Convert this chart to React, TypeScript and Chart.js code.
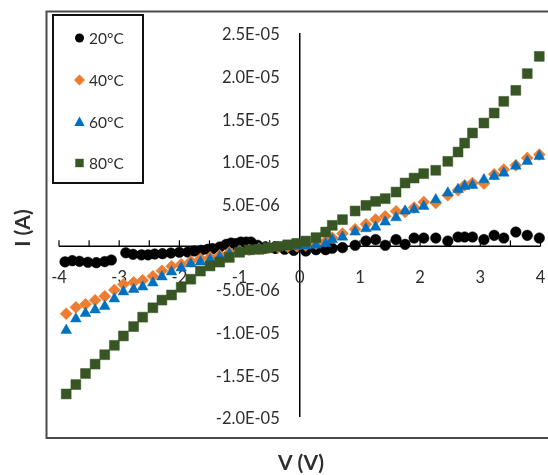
import React, { useEffect, useRef } from 'react';
import { Chart, registerables } from 'chart.js';

Chart.register(...registerables);

// ---------- data ----------
const seriesLabels = ['20°C', '40°C', '60°C', '80°C'];
const seriesColors = ['#000000', '#ED7D31', '#0070C0', '#375623'];

const v20 = [
  -3.9, -3.78, -3.66, -3.52, -3.38, -3.24, -3.13, -2.89, -2.77, -2.63, -2.52, -2.41, -2.28, -2.14, -2.0, -1.86,
  -1.75, -1.64, -1.53, -1.45, -1.33, -1.22, -1.14, -1.06, -0.98, -0.89, -0.81, -0.7, -0.55, -0.4, -0.25, -0.1,
  0.1, 0.27, 0.43, 0.54, 0.71, 0.92, 1.1, 1.26, 1.42, 1.6, 1.75, 1.9, 2.06, 2.26, 2.46, 2.63, 2.74, 2.87,
  3.06, 3.23, 3.39, 3.59, 3.78, 3.98,
];
const i20 = [
  -1.82e-6, -1.68e-6, -1.76e-6, -1.87e-6, -1.91e-6, -1.79e-6, -1.6e-6, -7.6e-7, -9.4e-7, -1.0e-6, -1.0e-6, -9.0e-7,
  -8.6e-7, -7.9e-7, -7.0e-7, -6.7e-7, -5.5e-7, -4.7e-7, -3.5e-7, -2.7e-7, -8e-8, 2.3e-7, 3.9e-7, 3.2e-7, 5.0e-7,
  5.0e-7, 5.0e-7, 1.2e-7, -1.2e-7, -2.3e-7, -3.5e-7, -4.7e-7,
  -5.5e-7, -3.9e-7, -3.9e-7, -2.3e-7, -1.5e-7, 1.2e-7, 6.2e-7, 7.9e-7, 1.2e-7, 7.9e-7, 2.3e-7, 9.7e-7, 9.7e-7,
  9.7e-7, 6.2e-7, 1.09e-6, 1.09e-6, 1.09e-6, 7.9e-7, 1.29e-6, 9.7e-7, 1.68e-6, 1.29e-6, 9.7e-7,
];

const vSweep = [
  -3.88, -3.72, -3.56, -3.4, -3.24, -3.08, -2.93, -2.76, -2.61, -2.44, -2.29, -2.13, -1.97, -1.81, -1.65, -1.49,
  -1.33, -1.17, -1.0, -0.84, -0.68, -0.52, -0.36, -0.2, -0.05,
  0.1, 0.27, 0.43, 0.54, 0.71, 0.92, 1.1, 1.26, 1.42, 1.6, 1.75, 1.9, 2.06, 2.26, 2.46, 2.63, 2.74, 2.87, 3.06,
  3.23, 3.39, 3.59, 3.78, 3.98,
];
const i40 = [
  -7.89e-6, -7.15e-6, -6.8e-6, -6.33e-6, -5.86e-6, -5.12e-6, -4.45e-6, -4.22e-6, -3.98e-6, -3.52e-6, -2.87e-6,
  -2.34e-6, -2.11e-6, -1.76e-6, -1.46e-6, -1.29e-6, -1.05e-6, -7.0e-7, -5.3e-7, -4.1e-7, -2.9e-7, -1.8e-7, -1.2e-7,
  -6e-8, 0,
  1e-7, 3e-7, 6e-7, 1.0e-6, 1.5e-6, 2.0e-6, 2.6e-6, 3.13e-6, 3.52e-6, 4.1e-6, 4.02e-6, 4.54e-6, 5.19e-6, 5.07e-6,
  5.98e-6, 6.56e-6, 7.15e-6, 7.42e-6, 7.35e-6, 8.44e-6, 8.99e-6, 9.49e-6, 1.035e-5, 1.075e-5,
];
const i60 = [
  -9.84e-6, -8.5e-6, -7.85e-6, -7.44e-6, -7.03e-6, -6.15e-6, -5.33e-6, -5.04e-6, -4.75e-6, -4.28e-6, -3.57e-6,
  -2.99e-6, -2.52e-6, -2.05e-6, -1.82e-6, -1.56e-6, -1.25e-6, -8.6e-7, -5.9e-7, -4.7e-7, -3.5e-7, -2.3e-7, -1.2e-7,
  -6e-8, 0,
  5e-8, 1.5e-7, 3.2e-7, 7.8e-7, 1.09e-6, 1.68e-6, 2.07e-6, 2.26e-6, 2.85e-6, 3.36e-6, 4.14e-6, 4.3e-6, 4.69e-6,
  5.47e-6, 6.25e-6, 6.68e-6, 7.03e-6, 7.15e-6, 7.82e-6, 8.2e-6, 8.59e-6, 9.41e-6, 9.96e-6, 1.055e-5,
];
const i80 = [
  -1.73e-5, -1.62e-5, -1.49e-5, -1.38e-5, -1.27e-5, -1.16e-5, -1.05e-5, -9.4e-6, -8.3e-6, -7.2e-6, -6.3e-6,
  -5.7e-6, -4.8e-6, -3.85e-6, -2.9e-6, -2.3e-6, -1.85e-6, -1.3e-6, -7.0e-7, -4.1e-7, -3.5e-7, -1.8e-7, 0, 1.8e-7,
  3.5e-7,
  6.2e-7, 1.02e-6, 1.68e-6, 2.46e-6, 3.13e-6, 4.14e-6, 4.8e-6, 5.27e-6, 5.59e-6, 6.36e-6, 7.42e-6, 8.0e-6, 8.52e-6,
  8.91e-6, 9.96e-6, 1.105e-5, 1.21e-5, 1.328e-5, 1.445e-5, 1.562e-5, 1.699e-5, 1.828e-5, 2.024e-5, 2.226e-5,
];

const xTickValues = [-4, -3, -2, -1, 0, 1, 2, 3, 4];
const xTickLabels = ['-4', '-3', '-2', '-1', '0', '1', '2', '3', '4'];
const xTickMarks = [-4, -3.5, -3, -2.5, -2, -1.5, -1, -0.5, 0, 0.5, 1, 1.5, 2, 2.5, 3, 3.5, 4];
const yTickValues = [2.5e-5, 2.0e-5, 1.5e-5, 1.0e-5, 5.0e-6, 0, -5.0e-6, -1.0e-5, -1.5e-5, -2.0e-5];
const yTickLabels = ['2.5E-05', '2.0E-05', '1.5E-05', '1.0E-05', '5.0E-06', '0.0E+00', '-5.0E-06', '-1.0E-05', '-1.5E-05', '-2.0E-05'];
const xTitle = 'V (V)';
const yTitle = 'I (A)';

const FONT = 'Lato, "Open Sans", sans-serif';
const TEXT_COLOR = '#2e2e2e';

function toPoints(vs: number[], is: number[]) {
  return vs.map((v, k) => ({ x: v, y: is[k] }));
}

function drawLegendMarker(ctx: CanvasRenderingContext2D, kind: number, x: number, y: number, color: string) {
  ctx.save();
  ctx.fillStyle = color;
  ctx.beginPath();
  if (kind === 0) {
    ctx.arc(x, y, 4.5, 0, Math.PI * 2);
  } else if (kind === 1) {
    ctx.moveTo(x, y - 5.5);
    ctx.lineTo(x + 5.5, y);
    ctx.lineTo(x, y + 5.5);
    ctx.lineTo(x - 5.5, y);
    ctx.closePath();
  } else if (kind === 2) {
    ctx.moveTo(x, y - 5.5);
    ctx.lineTo(x + 5.2, y + 4);
    ctx.lineTo(x - 5.2, y + 4);
    ctx.closePath();
  } else {
    ctx.rect(x - 4.2, y - 4.2, 8.4, 8.4);
  }
  ctx.fill();
  ctx.restore();
}

const decorPlugin = {
  id: 'decor',
  beforeDatasetsDraw(chart: any) {
    const ctx: CanvasRenderingContext2D = chart.ctx;
    const xs = chart.scales.x;
    const ys = chart.scales.y;
    const { top, bottom, left, right } = chart.chartArea;
    ctx.save();
    // outer frame
    ctx.strokeStyle = '#4a4a4a';
    ctx.lineWidth = 2;
    ctx.strokeRect(46.5, 11.5, 560, 426.5);

    const axisX = xs.getPixelForValue(0);
    const axisY = ys.getPixelForValue(0);
    ctx.strokeStyle = '#000000';
    ctx.lineWidth = 1.5;
    // y axis
    ctx.beginPath();
    ctx.moveTo(axisX, top);
    ctx.lineTo(axisX, bottom);
    ctx.stroke();
    // x axis
    ctx.beginPath();
    ctx.moveTo(left, axisY);
    ctx.lineTo(right, axisY);
    ctx.stroke();
    // x tick marks (pointing up)
    ctx.lineWidth = 1.2;
    xTickMarks.forEach((v) => {
      const px = xs.getPixelForValue(v);
      ctx.beginPath();
      ctx.moveTo(px, axisY);
      ctx.lineTo(px, axisY - 6);
      ctx.stroke();
    });

    // tick labels
    ctx.fillStyle = TEXT_COLOR;
    ctx.font = `16.5px ${FONT}`;
    ctx.textAlign = 'right';
    ctx.textBaseline = 'middle';
    yTickValues.forEach((v, k) => {
      ctx.fillText(yTickLabels[k], axisX - 20, ys.getPixelForValue(v) + 2);
    });
    ctx.textAlign = 'center';
    xTickValues.forEach((v, k) => {
      ctx.fillText(xTickLabels[k], xs.getPixelForValue(v), axisY + 31);
    });
    ctx.restore();
  },
  afterDatasetsDraw(chart: any) {
    const ctx: CanvasRenderingContext2D = chart.ctx;
    ctx.save();
    // legend box
    ctx.fillStyle = '#ffffff';
    ctx.fillRect(53, 15, 90, 168);
    ctx.strokeStyle = '#111111';
    ctx.lineWidth = 2;
    ctx.strokeRect(53, 15, 90, 168);
    const rows = [38, 80, 122, 163];
    ctx.font = `15.5px ${FONT}`;
    ctx.textAlign = 'left';
    ctx.textBaseline = 'middle';
    seriesLabels.forEach((lab, k) => {
      drawLegendMarker(ctx, k, 79.5, rows[k], seriesColors[k]);
      ctx.fillStyle = TEXT_COLOR;
      ctx.fillText(lab, 89, rows[k] + 1);
    });
    // axis titles
    ctx.fillStyle = TEXT_COLOR;
    ctx.font = `bold 21px ${FONT}`;
    ctx.textAlign = 'center';
    ctx.textBaseline = 'middle';
    ctx.fillText(xTitle, 301, 463);
    ctx.translate(23, 228);
    ctx.rotate(-Math.PI / 2);
    ctx.fillText(yTitle, 0, 0);
    ctx.restore();
  },
};

export default function App() {
  const canvasRef = useRef<HTMLCanvasElement | null>(null);

  useEffect(() => {
    const canvas = canvasRef.current;
    if (!canvas) return;
    const mk = (k: number, data: any[], style: string, radius: number, order: number) => ({
      label: seriesLabels[k],
      data,
      showLine: false,
      pointStyle: style,
      pointRadius: radius,
      pointHoverRadius: radius,
      backgroundColor: seriesColors[k],
      borderColor: seriesColors[k],
      pointBorderWidth: 0.5,
      order,
      clip: false,
    });
    const chart = new Chart(canvas, {
      type: 'scatter',
      data: {
        datasets: [
          mk(0, toPoints(v20, i20), 'circle', 5.3, 3),
          mk(1, toPoints(vSweep, i40), 'rectRot', 6, 2),
          mk(2, toPoints(vSweep, i60), 'triangle', 6.2, 1),
          mk(3, toPoints(vSweep, i80), 'rect', 7, 0),
        ] as any,
      },
      options: {
        responsive: false,
        maintainAspectRatio: false,
        animation: false,
        devicePixelRatio: 1,
        layout: { padding: { left: 59, right: 6, top: 33, bottom: 58 } },
        scales: {
          x: { type: 'linear', min: -4, max: 4, display: false },
          y: { type: 'linear', min: -2.0e-5, max: 2.5e-5, display: false },
        },
        plugins: {
          legend: { display: false },
          tooltip: { enabled: false },
        },
        events: [],
      },
      plugins: [decorPlugin],
    });
    return () => chart.destroy();
  }, []);

  return (
    <div style={{ position: 'fixed', left: 0, top: 0, width: 548, height: 475, background: '#ffffff' }}>
      <canvas ref={canvasRef} width={548} height={475} style={{ display: 'block', width: 548, height: 475 }} />
    </div>
  );
}
